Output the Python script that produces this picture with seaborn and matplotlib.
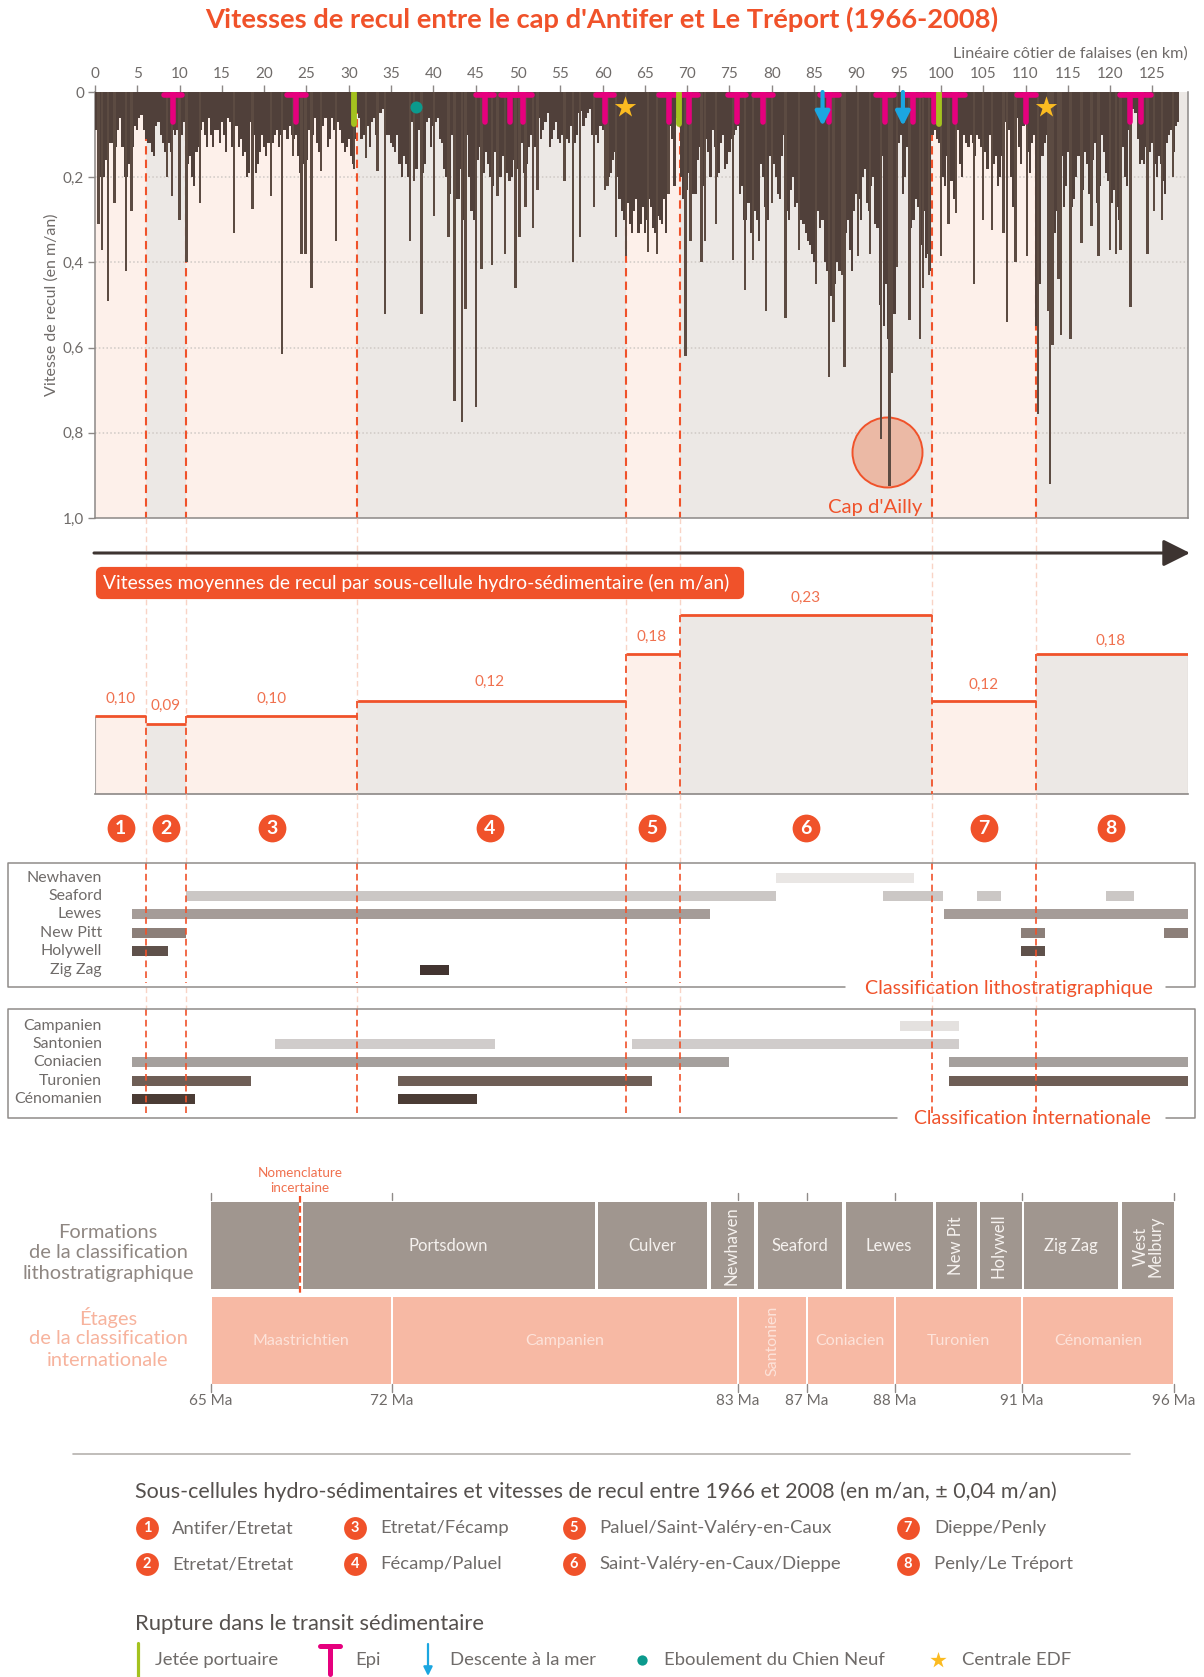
import numpy as np
import pandas as pd
import matplotlib
matplotlib.use('Agg')
import matplotlib.pyplot as plt
from matplotlib.patches import FancyBboxPatch
import seaborn as sns

# ---- data ----
# retreat rate (m/an), one value every 0.5 km along the coast (km 0, 0.5, 1 ...)
profile = [
    .09,.18,.2,.14,.12,.13,.06,.2,.17,.13,
    .09,.055,.11,.12,.15,.07,.12,.13,.14,.10,
    .09,.07,.17,.2,.14,.09,.1,.06,.13,.09,
    .07,.14,.07,.08,.13,.15,.2,.07,.19,.14,
    .13,.12,.12,.09,.1,.09,.08,.11,.15,.2,
    .16,.07,.06,.14,.08,.13,.06,.11,.09,.14,
    .11,.17,.05,.11,.05,.13,.06,.09,.04,.1,
    .12,.14,.17,.15,.2,.07,.18,.06,.17,.06,
    .08,.06,.12,.2,.24,.16,.25,.3,.1,.28,
    .2,.13,.19,.17,.22,.11,.2,.17,.21,.16,
    .18,.12,.17,.1,.13,.06,.09,.05,.11,.07,
    .12,.09,.12,.07,.1,.045,.06,.04,.09,.12,
    .09,.17,.19,.14,.25,.3,.26,.33,.25,.31,
    .33,.25,.32,.29,.31,.33,.08,.22,.08,.25,
    .23,.2,.24,.13,.22,.14,.09,.2,.12,.18,
    .14,.1,.08,.22,.3,.33,.28,.35,.2,.3,
    .13,.2,.25,.1,.3,.2,.26,.3,.33,.36,
    .4,.28,.3,.42,.48,.45,.42,.38,.3,.42,
    .24,.3,.18,.28,.2,.32,.15,.45,.5,.52,
    .12,.24,.13,.32,.25,.33,.28,.38,.1,.11,
    .13,.22,.15,.25,.09,.2,.12,.1,.15,.11,
    .09,.18,.1,.15,.2,.24,.09,.27,.06,.17,
    .05,.19,.1,.7,.15,.1,.17,.33,.35,.27,
    .14,.27,.2,.21,.14,.24,.16,.26,.1,.19,
    .2,.23,.3,.13,.22,.05,.05,.17,.17,.14,
    .12,.2,.17,.24,.1,.14,.07,
]
# same profile, the readings in between (km 0.25, 0.75, 1.25 ...)
profile_mid = [
    .09,.2,.16,.12,.15,.09,.13,.2,.13,.08,
    .06,.09,.12,.14,.08,.1,.14,.12,.09,.09,
    .1,.18,.15,.22,.13,.07,.13,.1,.09,.12,
    .1,.06,.13,.08,.11,.14,.19,.1,.17,.1,
    .15,.12,.1,.13,.09,.11,.1,.1,.19,.17,
    .09,.1,.12,.1,.06,.11,.09,.07,.12,.13,
    .15,.11,.06,.1,.08,.07,.1,.05,.12,.1,
    .13,.1,.2,.17,.1,.14,.09,.19,.07,.13,
    .07,.11,.18,.22,.1,.25,.18,.28,.2,.3,
    .16,.17,.14,.2,.14,.2,.15,.19,.2,.14,
    .15,.19,.13,.11,.08,.11,.07,.13,.09,.11,
    .1,.11,.08,.12,.05,.08,.05,.1,.1,.08,
    .14,.2,.16,.2,.28,.24,.31,.28,.33,.27,
    .3,.27,.33,.3,.25,.2,.11,.06,.2,.28,
    .19,.24,.16,.23,.11,.2,.13,.19,.1,.17,
    .11,.09,.24,.3,.26,.32,.3,.17,.27,.15,
    .17,.24,.15,.28,.23,.27,.29,.31,.35,.38,
    .35,.32,.4,.46,.42,.4,.43,.33,.37,.28,
    .25,.2,.26,.22,.31,.5,.55,.58,.6,.25,
    .1,.2,.27,.3,.27,.36,.39,.42,.09,.12,
    .2,.15,.21,.1,.17,.1,.13,.12,.1,.13,
    .14,.1,.17,.22,.15,.07,.2,.07,.13,.08,
    .14,.12,.55,.45,.12,.2,.3,.28,.15,.22,
    .2,.25,.15,.23,.17,.2,.12,.22,.14,.21,
    .26,.27,.15,.2,.09,.04,.11,.16,.13,.14,
    .17,.15,.21,.12,.09,.08,
]
# thin isolated peaks
spike_km = [0.4,0.8,1.5,2.3,3.7,4.3,8.5,9.1,10.0,10.8,12.4,16.4,18.6,20.8,22.1,23.4,24.4,24.9,25.6,26.7,
            28.5,30.6,32.0,33.4,34.3,37.2,37.7,38.6,40.1,41.8,42.5,43.4,43.8,45.0,45.7,46.9,47.6,48.5,49.7,50.2,
            50.9,51.8,52.3,55.5,56.5,57.3,59.0,60.3,60.6,61.6,62.8,65.4,66.4,67.8,69.8,70.4,71.7,72.1,73.4,75.4,
            76.8,77.8,79.3,80.0,81.6,83.2,85.2,86.8,87.3,88.3,88.6,90.2,91.6,92.9,93.9,94.2,94.8,96.3,97.5,97.9,
            98.6,100.0,100.9,101.8,103.9,105.0,106.0,107.4,107.8,108.8,110.2,111.5,112.7,112.9,113.2,113.9,114.2,115.3,116.6,117.8,
            118.6,120.0,120.7,121.2,122.4,124.4,125.2,126.1,127.4]
spike_val = [.31,.37,.49,.26,.42,.28,.20,.245,.30,.40,.26,.33,.275,.245,.615,.15,.38,.38,.46,.185,
             .35,.18,.155,.185,.52,.35,.21,.52,.29,.34,.725,.775,.51,.74,.415,.405,.245,.38,.46,.34,
             .27,.32,.23,.21,.40,.34,.27,.23,.22,.34,.385,.375,.38,.24,.62,.35,.40,.35,.31,.395,
             .465,.395,.515,.26,.53,.37,.45,.67,.54,.43,.645,.385,.38,.815,.925,.66,.41,.535,.58,.46,
             .43,.385,.31,.285,.45,.30,.325,.33,.54,.40,.385,.755,.515,.92,.595,.44,.57,.58,.355,.315,
             .385,.37,.38,.37,.505,.38,.28,.30,.20]
km_ticks = list(range(0, 130, 5))
rate_ticks = [0, .2, .4, .6, .8, 1.0]
rate_tick_labels = ['0', '0,2', '0,4', '0,6', '0,8', '1,0']

cell_edges = [0, 6.05, 10.75, 31.0, 62.8, 69.2, 98.9, 111.2, 129.2]
cell_means = [.10, .09, .10, .12, .18, .23, .12, .18]
cell_labels = ['0,10', '0,09', '0,10', '0,12', '0,18', '0,23', '0,12', '0,18']
cell_badge_px = [120.6, 166, 272, 490, 652, 806, 984, 1111]
cell_names = ['Antifer/Etretat', 'Etretat/Etretat', 'Etretat/Fécamp', 'Fécamp/Paluel',
              'Paluel/Saint-Valéry-en-Caux', 'Saint-Valéry-en-Caux/Dieppe', 'Dieppe/Penly', 'Penly/Le Tréport']

epi_km = [9.2, 23.8, 46.1, 49.1, 50.6, 60.3, 67.8, 70.2, 75.9, 79.0, 86.8, 93.4, 96.7, 99.2, 101.7, 110.1, 122.3, 123.7]
jetee_km = [30.6, 69.0, 99.8]
descente_km = [86.0, 95.5]
eboulement_km = [38.0]
centrale_km = [62.6, 112.4]

litho_names = ['Newhaven', 'Seaford', 'Lewes', 'New Pitt', 'Holywell', 'Zig Zag']
litho_colors = ['#e9e6e4', '#cbc7c5', '#a59c98', '#8c7f79', '#5f514b', '#423430']
litho_spans = [
    [(80.5, 96.8)],
    [(10.8, 80.5), (93.2, 100.2), (104.3, 107.1), (119.5, 122.8)],
    [(4.4, 72.7), (100.4, 129.2)],
    [(4.4, 10.8), (109.5, 112.3), (126.4, 129.2)],
    [(4.4, 8.65), (109.5, 112.3)],
    [(38.4, 41.9)],
]
inter_names = ['Campanien', 'Santonien', 'Coniacien', 'Turonien', 'Cénomanien']
inter_colors = ['#e4e1df', '#d0cccb', '#a5a09d', '#6e5e56', '#4b3c35']
inter_spans = [
    [(95.2, 102.1)],
    [(21.3, 47.3), (63.5, 102.1)],
    [(4.4, 74.9), (101, 129.2)],
    [(4.4, 18.4), (35.8, 65.8), (101, 129.2)],
    [(4.4, 11.8), (35.8, 45.2)],
]

# bottom strips, positions along the (non linear) Ma axis
ma_labels = ['65 Ma', '72 Ma', '83 Ma', '87 Ma', '88 Ma', '91 Ma', '96 Ma']
ma_pos = [211, 392, 738, 807, 895, 1021.5, 1174]
formation_edges = [(211, 299), (303, 595), (598, 707), (711, 754), (758, 842), (846, 933),
                   (936, 977), (980, 1021.5), (1024, 1118), (1122, 1174)]
formation_names = ['', 'Portsdown', 'Culver', 'Newhaven', 'Seaford', 'Lewes', 'New Pit', 'Holywell', 'Zig Zag', 'West\nMelbury']
formation_rot = [0, 0, 0, 90, 0, 0, 90, 90, 0, 90]
formation_label_x = [0, 448, 652, 731, 800, 889, 956, 998, 1071, 1148]
etage_names = ['Maastrichtien', 'Campanien', 'Santonien', 'Coniacien', 'Turonien', 'Cénomanien']
etage_rot = [0, 0, 90, 0, 0, 0]
etage_label_x = [301, 565, 772, 850, 958.5, 1098]

# ---- style ----
sns.set_style('white')
plt.rcParams['font.family'] = ['Lato', 'DejaVu Sans']
ORANGE = '#f0522a'
GREY = '#6f6b69'
BROWN = '#50403a'
MAGENTA = '#e6007e'
GREEN = '#a4c21f'
BLUE = '#1ba6e0'
TEAL = '#0b9a8d'
GOLD = '#fbbb21'
BAND_A = '#fdf0ea'
BAND_B = '#ece8e5'
W, H = 1204, 1677
LEFT, RIGHT = 95, 1188
KM_MAX = 129.2

fig = plt.figure(figsize=(W / 100, H / 100), dpi=100, facecolor='white')

def px_axes(x0, y0, x1, y1, **kw):
    return fig.add_axes([x0 / W, 1 - y1 / H, (x1 - x0) / W, (y1 - y0) / H], **kw)

def km2px(km):
    return LEFT + km * (RIGHT - LEFT) / KM_MAX

# ---- top chart ----
ax = px_axes(LEFT, 92, RIGHT, 518)
for i in range(8):
    ax.axvspan(cell_edges[i], cell_edges[i + 1], color=BAND_A if i % 2 == 0 else BAND_B, lw=0, zorder=0)
ax.hlines(rate_ticks[1:5], 0, KM_MAX, color='#cfc9c5', lw=1.1, linestyles=(0, (1, 1.5)), zorder=1)
ax.vlines(cell_edges[1:-1], 0, 1, color=ORANGE, lw=1.5, linestyles=(0, (4, 2.5)), zorder=2)
# Cap d'Ailly circle
ax.scatter([93.6], [.846], s=2540, color='#ebb9a5', edgecolor=ORANGE, lw=1.4, zorder=2.5)

profile_df = pd.DataFrame({'km': np.r_[np.arange(len(profile)) * 0.5, 0.25 + np.arange(len(profile_mid)) * 0.5],
                           'rate': profile + profile_mid})
spike_df = pd.DataFrame({'km': spike_km, 'rate': spike_val})
sns.barplot(data=profile_df, x='km', y='rate', native_scale=True, width=1.0, color=BROWN, saturation=1,
            linewidth=0, errorbar=None, ax=ax, zorder=3)
sns.barplot(data=spike_df, x='km', y='rate', native_scale=True, width=1.4, color='#5c4b42', saturation=1,
            linewidth=0, errorbar=None, ax=ax, zorder=3)

ax.set_xlim(0, KM_MAX)
ax.set_ylim(1, 0)
ax.set_xlabel('')
ax.set_ylabel('Vitesse de recul (en m/an)', color=GREY, fontsize=11.5, labelpad=3)
ax.xaxis.tick_top()
ax.set_xticks(km_ticks)
ax.set_xticklabels([str(k) for k in km_ticks])
ax.set_yticks(rate_ticks)
ax.set_yticklabels(rate_tick_labels)
ax.tick_params(axis='both', colors='#8c8886', labelcolor=GREY, labelsize=11, length=5, width=1, pad=3, left=True, top=True)
for s in ax.spines.values():
    s.set_color('#8c8886')
    s.set_linewidth(1.1)
ax.spines['top'].set_visible(False)

# sediment transit markers
ax.vlines(epi_km, 0, .07, color=MAGENTA, lw=4, zorder=5, capstyle='round')
for k in epi_km:
    ax.plot([k - 1.1, k + 1.1], [.006, .006], color=MAGENTA, lw=4, zorder=5, solid_capstyle='round', clip_on=False)
ax.vlines(jetee_km, .003, .074, color=GREEN, lw=4.2, zorder=6, capstyle='round')
for k in descente_km:
    ax.annotate('', xy=(k, .08), xytext=(k, 0), zorder=7,
                arrowprops=dict(arrowstyle='-|>', color=BLUE, lw=3, mutation_scale=21, shrinkA=0, shrinkB=0))
ax.scatter(eboulement_km, [.035] * len(eboulement_km), s=75, color=TEAL, lw=0, zorder=6)
ax.scatter(centrale_km, [.035] * len(centrale_km), s=260, marker='*', color=GOLD, lw=0, zorder=6)

# ---- mean retreat per sub-cell ----
ax2 = px_axes(LEFT, 560, RIGHT, 794)
widths = np.diff(cell_edges)
ax2.bar(cell_edges[:-1], cell_means, width=widths, align='edge', lw=0,
        color=[BAND_A if i % 2 == 0 else BAND_B for i in range(8)])
ax2.hlines(cell_means, cell_edges[:-1], cell_edges[1:], color=ORANGE, lw=2, zorder=4)
ax2.set_xlim(0, KM_MAX)
ax2.set_ylim(0, 234 / 778)
ax2.set_xticks([])
ax2.set_yticks([])
for s in ['top', 'right', 'left']:
    ax2.spines[s].set_visible(False)
ax2.spines['bottom'].set_color('#8c8886')
ax2.spines['bottom'].set_linewidth(1.2)
ax2.vlines([cell_edges[0], cell_edges[-1]], 0, [cell_means[0], cell_means[-1]], color='#a9a5a2', lw=0.8, zorder=1)

# ---- lithostratigraphic and international classification rows ----
def draw_rows(y0, y1, ys, colors, spans):
    a = px_axes(LEFT, y0, RIGHT, y1)
    a.set_xlim(0, KM_MAX)
    a.set_ylim(y1, y0)
    a.axis('off')
    a.patch.set_alpha(0)
    for y, c, segs in zip(ys, colors, spans):
        a.barh([y] * len(segs), [s[1] - s[0] for s in segs], left=[s[0] for s in segs], height=10, color=c, lw=0)
    return a

litho_y = [878, 896, 914, 933, 951, 970]
inter_y = [1026, 1044, 1062, 1081, 1099]
draw_rows(863, 987, litho_y, litho_colors, litho_spans)
draw_rows(1009, 1118, inter_y, inter_colors, inter_spans)

# ---- Ma strips ----
ax3 = px_axes(211, 1202, 1174, 1384)
ax3.set_xlim(211, 1174)
ax3.set_ylim(1384, 1202)
ax3.axis('off')
ax3.barh([1245.5] * len(formation_edges), [b - a for a, b in formation_edges],
         left=[a for a, b in formation_edges], height=87, color='#a0968f', lw=0)
etage_edges = list(zip(ma_pos[:-1], ma_pos[1:]))
ax3.barh([1340.5] * len(etage_edges), [b - a - 2 for a, b in etage_edges],
         left=[a + 1 for a, b in etage_edges], height=87, color='#f7b9a4', lw=0)

# ---- everything annotated in figure pixels ----
fg = fig.add_axes([0, 0, 1, 1], zorder=10)
fg.set_xlim(0, W)
fg.set_ylim(H, 0)
fg.axis('off')
fg.patch.set_alpha(0)

def txt(x, y, s, color=GREY, size=10.5, ha='left', va='center', **kw):
    fg.text(x, y, s, color=color, fontsize=size, ha=ha, va=va, **kw)

txt(602, 19, "Vitesses de recul entre le cap d'Antifer et Le Tréport (1966-2008)", ORANGE, 19.7, 'center', fontweight='bold')
txt(1188, 54, 'Linéaire côtier de falaises (en km)', GREY, 11.6, 'right')
txt(875, 507, "Cap d'Ailly", ORANGE, 14.6, 'center')

# direction arrow
fg.annotate('', xy=(1190, 553), xytext=(94, 553),
            arrowprops=dict(arrowstyle='-|>', color='#3d3431', lw=2.2, mutation_scale=41, shrinkA=0, shrinkB=0))
fg.add_patch(FancyBboxPatch((98, 569), 644, 28, boxstyle='round,pad=0,rounding_size=4', fc=ORANGE, ec=ORANGE, lw=3, zorder=3))
fg.text(103, 583, 'Vitesses moyennes de recul par sous-cellule hydro-sédimentaire (en m/an)', color='white',
        fontsize=13.9, va='center', zorder=4)

# dashed cell boundaries below the top chart
for k, mean_left, mean_right in zip(cell_edges[1:-1], cell_means[:-1], cell_means[1:]):
    x = km2px(k)
    top = 794 - max(mean_left, mean_right) * 778
    dash = (0, (4, 2.5))
    fg.plot([x, x], [518, top], color='#f9d3c5', lw=1, ls=dash, zorder=1)
    fg.plot([x, x], [794, 863], color='#f9d3c5', lw=1, ls=dash, zorder=1)
    fg.plot([x, x], [987, 1009], color='#f9d3c5', lw=1, ls=dash, zorder=1)
    fg.plot([x, x], [top, 794], color=ORANGE, lw=1.3, ls=dash)
    fg.plot([x, x], [863, 983], color=ORANGE, lw=1.2, ls=dash)
    fg.plot([x, x], [1009, 1113], color=ORANGE, lw=1.2, ls=dash)

# values and badges
label_y = [699, 706, 699, 682, 637, 598, 685, 641]
for x, y, s in zip(cell_badge_px, label_y, cell_labels):
    txt(x, y, s, '#f0714f', 11, 'center')

def badge(x, y, n, r=225, size=11):
    fg.scatter([x], [y], s=r, color=ORANGE, lw=0, zorder=4)
    fg.text(x, y, str(n), color='white', fontsize=size, fontweight='bold', ha='center', va='center', zorder=5)

for i, x in enumerate(cell_badge_px):
    badge(x, 828, i + 1, r=400, size=14)

# classification frames
FRAME = '#8f8b89'
for y0, y1, gap0 in [(863, 987, 845), (1009, 1118, 897)]:
    fg.plot([gap0, 8, 8, 1195, 1195, 1166], [y1, y1, y0, y0, y1, y1], color=FRAME, lw=1.1)
txt(1153, 988, 'Classification lithostratigraphique', ORANGE, 14.1, 'right')
txt(1151, 1118, 'Classification internationale', ORANGE, 14, 'right')
for y, n in zip(litho_y, litho_names):
    txt(102, y, n, GREY, 11.4, 'right')
for y, n in zip(inter_y, inter_names):
    txt(102, y, n, GREY, 11.4, 'right')

# Ma strip texts
for x, s in zip(ma_pos, ma_labels):
    fg.plot([x, x], [1193, 1200], color='#8f8b89', lw=1)
    fg.plot([x, x], [1384, 1392], color='#8f8b89', lw=1)
    txt(x, 1401, s, GREY, 11, 'center')
for x, s, r in zip(formation_label_x, formation_names, formation_rot):
    if s:
        txt(x, 1246, s, '#f5f1ee', 12, 'center', rotation=r, linespacing=0.95)
for x, s, r in zip(etage_label_x, etage_names, etage_rot):
    txt(x, 1341, s, '#fde3da', 11.5, 'center', rotation=r)
for y, s in zip([1232, 1253, 1274], ['Formations', 'de la classification', 'lithostratigraphique']):
    txt(108, y, s, '#8f8782', 14.4, 'center')
for y, s in zip([1317, 1338, 1360], ['Étages', 'de la classification', 'internationale']):
    txt(108, y, s, '#f7b39d', 14.4, 'center')
txt(300, 1173, 'Nomenclature', '#f0714f', 9.7, 'center')
txt(300, 1188, 'incertaine', '#f0714f', 9.7, 'center')
fg.plot([300, 300], [1196, 1294], color=ORANGE, lw=1.6, ls=(0, (3, 1.5)))

# bottom legend
fg.plot([73, 1130], [1454, 1454], color='#b5b1ae', lw=1.2)
txt(135, 1492, 'Sous-cellules hydro-sédimentaires et vitesses de recul entre 1966 et 2008 (en m/an, ± 0,04 m/an)', '#55504d', 15.5)
legend_badge_x = [147, 147, 355, 355, 574, 574, 908, 908]
legend_text_x = [172, 172, 380, 380, 599, 599, 934, 934]
legend_y = [1528, 1564] * 4
for i in range(8):
    badge(legend_badge_x[i], legend_y[i], i + 1, r=270, size=10.5)
    txt(legend_text_x[i], legend_y[i], cell_names[i], GREY, 13.3)
txt(135, 1624, 'Rupture dans le transit sédimentaire', '#55504d', 15.8)
fg.plot([138, 138], [1643, 1677], color=GREEN, lw=2.3)
txt(155, 1660, 'Jetée portuaire', GREY, 13.3)
fg.plot([330, 330], [1646, 1674], color=MAGENTA, lw=3.6, solid_capstyle='round')
fg.plot([320, 340], [1646, 1646], color=MAGENTA, lw=3.6, solid_capstyle='round')
txt(355, 1660, 'Epi', GREY, 13.3)
fg.annotate('', xy=(428, 1676), xytext=(428, 1644),
            arrowprops=dict(arrowstyle='-|>', color=BLUE, lw=1.6, mutation_scale=13, shrinkA=0, shrinkB=0))
txt(450, 1660, 'Descente à la mer', GREY, 13.3)
fg.scatter([642], [1660], s=55, color=TEAL, lw=0)
txt(664, 1660, 'Eboulement du Chien Neuf', GREY, 13.3)
fg.scatter([938], [1660], s=150, marker='*', color=GOLD, lw=0)
txt(962, 1660, 'Centrale EDF', GREY, 13.3)

fig.savefig('out.png', dpi=100, facecolor='white')
